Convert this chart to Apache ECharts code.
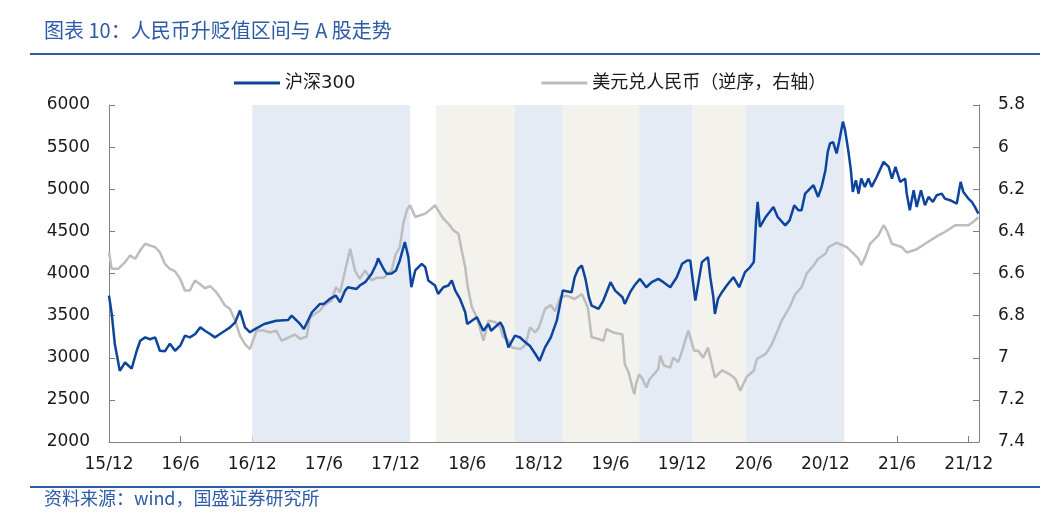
<!DOCTYPE html>
<html>
<head>
<meta charset="utf-8">
<script src="https://cdn.jsdelivr.net/npm/echarts@6/dist/echarts.min.js"></script>
<style>
  html, body { margin: 0; padding: 0; background: #fff; }
  #main { width: 1061px; height: 526px; }
</style>
</head>
<body>
<div id="main"></div>
<script>
// 沪深300 (left axis)
var csiDates = [
  '2015-12-31','2016-01-07','2016-01-15','2016-01-28','2016-02-10','2016-02-26','2016-03-10','2016-03-19',
  '2016-04-01','2016-04-13','2016-04-26','2016-05-08','2016-05-21','2016-06-03','2016-06-16','2016-06-29',
  '2016-07-11','2016-07-24','2016-08-07','2016-08-20','2016-09-01','2016-09-14','2016-09-26','2016-10-09',
  '2016-10-22','2016-11-04','2016-11-17','2016-11-29','2016-12-12','2016-12-25','2016-12-31','2017-01-31',
  '2017-02-28','2017-03-31','2017-04-09','2017-04-30','2017-05-10','2017-05-31','2017-06-20','2017-06-30',
  '2017-07-15','2017-07-31','2017-08-11','2017-08-24','2017-08-31','2017-09-22','2017-09-30','2017-10-14',
  '2017-10-31','2017-11-12','2017-11-16','2017-11-30','2017-12-08','2017-12-21','2018-01-01','2018-01-11',
  '2018-01-24','2018-02-02','2018-02-09','2018-02-18','2018-03-06','2018-03-15','2018-03-23','2018-04-09',
  '2018-04-17','2018-04-30','2018-05-13','2018-05-22','2018-05-31','2018-06-12','2018-06-25','2018-06-30',
  '2018-07-12','2018-07-25','2018-08-11','2018-08-24','2018-08-31','2018-09-23','2018-09-30','2018-10-14',
  '2018-10-31','2018-11-13','2018-11-26','2018-12-08','2018-12-21','2019-01-02','2019-01-16','2019-01-31',
  '2019-02-14','2019-02-28','2019-03-23','2019-03-31','2019-04-09','2019-04-18','2019-04-27','2019-05-06',
  '2019-05-13','2019-05-31','2019-06-12','2019-06-30','2019-07-12','2019-07-31','2019-08-06','2019-08-20',
  '2019-08-31','2019-09-14','2019-09-30','2019-10-14','2019-10-31','2019-11-13','2019-11-30','2019-12-17',
  '2019-12-31','2020-01-13','2020-01-21','2020-02-03','2020-02-19','2020-03-05','2020-03-11','2020-03-19',
  '2020-03-23','2020-03-31','2020-04-10','2020-04-22','2020-05-09','2020-05-24','2020-06-08','2020-06-21',
  '2020-06-30','2020-07-06','2020-07-10','2020-07-16','2020-07-31','2020-08-20','2020-08-31','2020-09-19',
  '2020-09-30','2020-10-12','2020-10-23','2020-10-31','2020-11-09','2020-11-30','2020-12-12','2020-12-21',
  '2020-12-31','2021-01-06','2021-01-12','2021-01-20','2021-01-29','2021-02-04','2021-02-13','2021-02-18',
  '2021-02-26','2021-03-04','2021-03-09','2021-03-17','2021-03-24','2021-03-31','2021-04-09','2021-04-18',
  '2021-04-26','2021-05-09','2021-05-27','2021-06-09','2021-06-17','2021-06-26','2021-07-08','2021-07-21',
  '2021-07-25','2021-08-02','2021-08-12','2021-08-20','2021-08-31','2021-09-10','2021-09-19','2021-09-30',
  '2021-10-10','2021-10-23','2021-10-31','2021-11-13','2021-11-30','2021-12-10','2021-12-17','2021-12-30',
  '2022-01-08','2022-01-16','2022-01-25'
];
var csiValues = [
  3738, 3524, 3167, 2845, 2944, 2870, 3083, 3202,
  3242, 3220, 3242, 3083, 3076, 3167, 3083, 3143,
  3262, 3242, 3282, 3361, 3321, 3282, 3242, 3282,
  3321, 3361, 3420, 3560, 3361, 3302, 3321, 3401,
  3440, 3448, 3500, 3401, 3341, 3540, 3639, 3639,
  3698, 3738, 3659, 3797, 3837, 3817, 3857, 3897,
  3996, 4115, 4180, 4053, 3996, 4000, 4036, 4155,
  4373, 4194, 3837, 4036, 4115, 4076, 3917, 3857,
  3758, 3837, 3857, 3917, 3797, 3698, 3540, 3401,
  3440, 3480, 3321, 3401, 3321, 3420, 3361, 3123,
  3262, 3240, 3183, 3140, 3050, 2964, 3123, 3242,
  3440, 3797, 3778, 3956, 4056, 4095, 3937, 3718,
  3619, 3580, 3679, 3897, 3797, 3718, 3639, 3778,
  3857, 3936, 3837, 3897, 3936, 3897, 3837, 3956,
  4115, 4155, 4155, 3679, 4135, 4194, 3956, 3718,
  3520, 3698, 3778, 3857, 3956, 3837, 4016, 4076,
  4135, 4631, 4849, 4552, 4671, 4790, 4671, 4572,
  4631, 4809, 4750, 4750, 4948, 5048, 4909, 5028,
  5226, 5444, 5544, 5560, 5425, 5564, 5802, 5703,
  5444, 5226, 4968, 5107, 4948, 5127, 5028, 5127,
  5028, 5146, 5325, 5266, 5127, 5266, 5087, 5127,
  4948, 4750, 4988, 4790, 4988, 4810, 4909, 4850,
  4929, 4948, 4889, 4870, 4830, 5087, 4968, 4889,
  4850, 4790, 4710
];

// 美元兑人民币 (right axis, inverted)
var fxDates = [
  '2015-12-31','2016-01-07','2016-01-24','2016-02-10','2016-02-22','2016-03-06','2016-03-19','2016-04-01',
  '2016-04-13','2016-04-26','2016-05-08','2016-05-21','2016-06-03','2016-06-16','2016-06-29','2016-07-11',
  '2016-07-24','2016-08-06','2016-08-19','2016-09-01','2016-09-14','2016-09-26','2016-10-09','2016-10-22',
  '2016-11-04','2016-11-17','2016-11-29','2016-12-12','2016-12-25','2017-01-11','2017-01-31','2017-02-14',
  '2017-02-28','2017-03-14','2017-03-31','2017-04-17','2017-04-30','2017-05-17','2017-05-26','2017-05-31',
  '2017-06-20','2017-06-30','2017-07-20','2017-07-31','2017-08-11','2017-08-24','2017-09-06','2017-09-18',
  '2017-09-30','2017-10-14','2017-10-31','2017-11-13','2017-11-30','2017-12-21','2017-12-31','2018-01-11',
  '2018-01-20','2018-01-29','2018-02-06','2018-02-18','2018-03-15','2018-03-31','2018-04-09','2018-04-30',
  '2018-05-13','2018-05-26','2018-06-08','2018-06-16','2018-06-25','2018-06-30','2018-07-12','2018-07-25',
  '2018-08-11','2018-08-24','2018-09-10','2018-09-23','2018-09-30','2018-10-14','2018-10-23','2018-11-13',
  '2018-11-26','2018-12-08','2018-12-21','2018-12-31','2019-01-16','2019-01-31','2019-02-10','2019-02-22',
  '2019-03-10','2019-03-31','2019-04-18','2019-05-03','2019-05-13','2019-05-31','2019-06-12','2019-06-20',
  '2019-07-07','2019-07-31','2019-08-06','2019-08-16','2019-08-27','2019-08-31','2019-09-04','2019-09-12',
  '2019-09-20','2019-09-30','2019-10-09','2019-10-24','2019-10-31','2019-11-05','2019-11-14','2019-11-30',
  '2019-12-08','2019-12-21','2019-12-31','2020-01-13','2020-01-16','2020-01-31','2020-02-10','2020-02-22',
  '2020-03-05','2020-03-15','2020-03-23','2020-04-10','2020-05-01','2020-05-14','2020-05-27','2020-06-12',
  '2020-06-30','2020-07-08','2020-07-31','2020-08-16','2020-08-31','2020-09-10','2020-09-30','2020-10-14',
  '2020-10-31','2020-11-13','2020-11-30','2020-12-12','2020-12-31','2021-01-08','2021-01-29','2021-02-22',
  '2021-03-11','2021-03-24','2021-03-31','2021-04-10','2021-04-22','2021-05-13','2021-05-27','2021-06-04',
  '2021-06-17','2021-07-12','2021-07-25','2021-08-20','2021-09-14','2021-10-14','2021-10-31','2021-11-26',
  '2021-12-30','2022-01-12','2022-01-25'
];
var fxValues = [
  6.499, 6.578, 6.578, 6.546, 6.514, 6.530, 6.490, 6.459,
  6.467, 6.475, 6.499, 6.554, 6.578, 6.590, 6.626, 6.681,
  6.681, 6.633, 6.650, 6.670, 6.660, 6.681, 6.713, 6.752,
  6.768, 6.824, 6.895, 6.935, 6.959, 6.871, 6.871, 6.880,
  6.871, 6.919, 6.905, 6.890, 6.910, 6.900, 6.808, 6.800,
  6.776, 6.752, 6.729, 6.665, 6.690, 6.586, 6.483, 6.586,
  6.625, 6.586, 6.633, 6.620, 6.620, 6.586, 6.510, 6.475,
  6.363, 6.300, 6.276, 6.332, 6.316, 6.292, 6.276, 6.340,
  6.363, 6.395, 6.411, 6.490, 6.570, 6.649, 6.760, 6.808,
  6.919, 6.824, 6.830, 6.856, 6.900, 6.919, 6.951, 6.959,
  6.940, 6.856, 6.880, 6.857, 6.768, 6.750, 6.780, 6.713,
  6.705, 6.721, 6.697, 6.760, 6.903, 6.911, 6.920, 6.864,
  6.880, 6.890, 7.030, 7.070, 7.149, 7.173, 7.125, 7.078,
  7.100, 7.141, 7.100, 7.070, 7.053, 6.990, 7.037, 7.046,
  7.000, 7.020, 6.967, 6.887, 6.871, 6.967, 6.967, 7.000,
  6.952, 7.030, 7.094, 7.060, 7.080, 7.100, 7.157, 7.090,
  7.062, 7.006, 6.982, 6.935, 6.871, 6.824, 6.760, 6.700,
  6.665, 6.600, 6.562, 6.530, 6.506, 6.475, 6.454, 6.475,
  6.506, 6.530, 6.560, 6.522, 6.459, 6.420, 6.371, 6.395,
  6.459, 6.475, 6.500, 6.485, 6.454, 6.419, 6.403, 6.371,
  6.371, 6.355, 6.332
];

// shaded periods: [start, end, kind]
var bandStarts = ['2016-12-31', '2018-04-11', '2018-10-31', '2019-02-28', '2019-09-12', '2020-01-27', '2020-06-10'];
var bandEnds   = ['2018-02-06', '2018-10-31', '2019-02-28', '2019-09-12', '2020-01-27', '2020-06-10', '2021-02-16'];
var bandKinds  = ['up', 'down', 'up', 'down', 'up', 'down', 'up'];

// tick labels every 6 months, starting at 15/12
var tickLabels = ['15/12','16/6','16/12','17/6','17/12','18/6','18/12','19/6','19/12','20/6','20/12','21/6','21/12'];

// month index: 0 = end of Dec 2015
function toMonth(s) {
  var p = s.split('-');
  var y = +p[0], mo = +p[1], d = +p[2];
  var dim = new Date(y, mo, 0).getDate();
  return (y - 2016) * 12 + (mo - 1) + d / dim;
}

var csiData = csiDates.map(function (d, i) { return [toMonth(d), csiValues[i]]; });
var fxData = fxDates.map(function (d, i) { return [toMonth(d), fxValues[i]]; });
var bandColor = { up: '#E4EBF5', down: '#F3F2ED' };
var bands = bandStarts.map(function (s, i) {
  return [
    { xAxis: toMonth(s), itemStyle: { color: bandColor[bandKinds[i]] } },
    { xAxis: toMonth(bandEnds[i]) }
  ];
});

var font = '"DejaVu Sans", "Noto Sans CJK SC", sans-serif';
var blue = '#2D5BA8';

var myChart = echarts.init(document.getElementById('main'));
var option = {
  animation: false,
  backgroundColor: '#fff',
  textStyle: { fontFamily: font },
  graphic: [
    { type: 'text', left: 44, top: 20, style: { text: '图表 10：人民币升贬值区间与 A 股走势', fill: blue, font: '20px "Noto Sans CJK SC", sans-serif' } },
    { type: 'line', shape: { x1: 30, y1: 54, x2: 1040, y2: 54 }, style: { stroke: blue, lineWidth: 2 } },
    { type: 'line', shape: { x1: 30, y1: 487, x2: 1040, y2: 487 }, style: { stroke: blue, lineWidth: 2 } },
    { type: 'text', left: 44, top: 489, style: { text: '资料来源：wind，国盛证券研究所', fill: blue, font: '18px "Noto Sans CJK SC", sans-serif' } }
  ],
  legend: {
    left: 229,
    top: 69,
    icon: 'rect',
    itemWidth: 46,
    itemHeight: 3,
    itemGap: 186,
    textStyle: { fontSize: 18, color: '#1a1a1a', fontFamily: font },
    data: ['沪深300', '美元兑人民币（逆序，右轴）']
  },
  grid: { left: 109, right: 82, top: 105, bottom: 84 },
  xAxis: {
    type: 'value',
    min: 0,
    max: 72.86,
    interval: 6,
    axisLine: { lineStyle: { color: '#808080' } },
    axisTick: { inside: true, length: 6, lineStyle: { color: '#808080' } },
    splitLine: { show: false },
    axisLabel: {
      fontSize: 17, color: '#1a1a1a', margin: 14,
      formatter: function (v) {
        var k = Math.round(v / 6);
        return Math.abs(v - k * 6) < 0.01 && tickLabels[k] ? tickLabels[k] : '';
      }
    }
  },
  yAxis: [{
    type: 'value',
    min: 2000,
    max: 6000,
    interval: 500,
    axisLine: { show: true, lineStyle: { color: '#808080' } },
    axisTick: { show: true, inside: true, length: 6, lineStyle: { color: '#808080' } },
    splitLine: { show: false },
    axisLabel: {
      fontSize: 17, color: '#1a1a1a', margin: 19,
      formatter: function (v) { return String(v); }
    }
  }, {
    type: 'value',
    inverse: true,
    min: 5.8,
    max: 7.4,
    interval: 0.2,
    axisLine: { show: true, lineStyle: { color: '#808080' } },
    axisTick: { show: true, inside: true, length: 6, lineStyle: { color: '#808080' } },
    splitLine: { show: false },
    axisLabel: {
      fontSize: 17, color: '#1a1a1a', margin: 19,
      formatter: function (v) { return String(+v.toFixed(1)); }
    }
  }],
  series: [{
    name: '美元兑人民币（逆序，右轴）',
    type: 'line',
    yAxisIndex: 1,
    data: fxData,
    showSymbol: false,
    lineStyle: { color: '#BDBDBD', width: 2.5 },
    itemStyle: { color: '#BDBDBD' },
    markArea: { silent: true, data: bands }
  }, {
    name: '沪深300',
    type: 'line',
    yAxisIndex: 0,
    data: csiData,
    showSymbol: false,
    lineStyle: { color: '#0C449E', width: 2.5 },
    itemStyle: { color: '#0C449E' }
  }]
};
myChart.setOption(option);
</script>
</body>
</html>
